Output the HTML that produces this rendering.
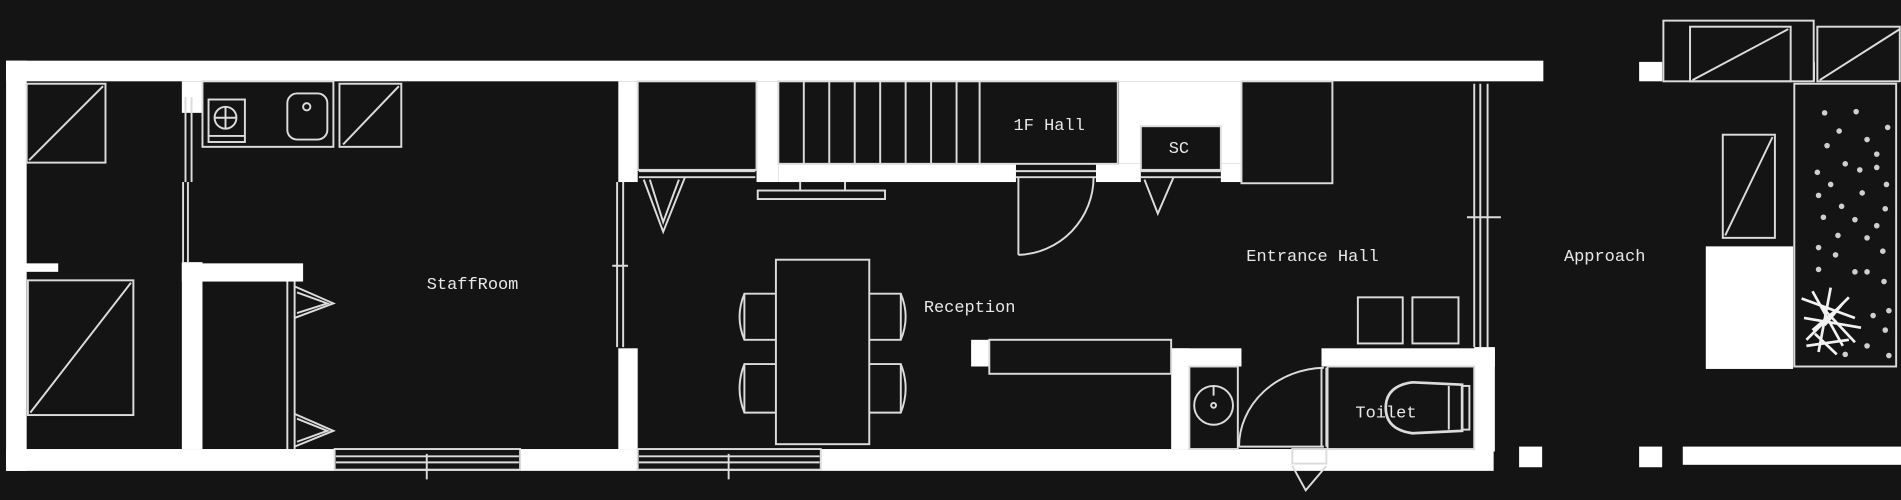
<!DOCTYPE html>
<html><head><meta charset="utf-8"><style>
html,body{margin:0;padding:0;background:#141414;}
svg{display:block;}
text{font-family:"Liberation Mono","DejaVu Sans Mono",monospace;fill:#e8e8e8;font-size:14px;}
</style></head><body>
<svg width="1901" height="500" viewBox="0 0 1568 412" preserveAspectRatio="none" xmlns="http://www.w3.org/2000/svg">
<rect x="0" y="0" width="1568" height="412" fill="#141414"/>
<g fill="#ffffff">
<!-- outer walls -->
<rect x="5" y="50" width="1268" height="17"/>
<rect x="5" y="50" width="17" height="338"/>
<rect x="5" y="370" width="1227" height="18"/>
<rect x="1352" y="51" width="19" height="16"/>
<rect x="1477" y="51" width="20" height="16"/>
<rect x="1253" y="368" width="19" height="17"/>
<rect x="1352" y="368" width="19" height="17"/>
<rect x="1388" y="368" width="180" height="15"/>
<!-- left interior -->
<rect x="150" y="67" width="17" height="26"/>
<rect x="150" y="216" width="17" height="154"/>
<rect x="150" y="217" width="100" height="15"/>
<rect x="21" y="217" width="27" height="7"/>
<!-- staff/reception wall -->
<rect x="510" y="67" width="16" height="83"/>
<rect x="510" y="287" width="16" height="83"/>
<!-- reception top -->
<rect x="624" y="67" width="18" height="83"/>
<rect x="642" y="135" width="196" height="15"/>
<rect x="904" y="135" width="37" height="15"/>
<rect x="1007" y="135" width="17" height="15"/>
<rect x="923" y="67" width="101" height="68"/>
<!-- lower middle -->
<rect x="801" y="280" width="15" height="22"/>
<rect x="966" y="287" width="58" height="15"/>
<rect x="966" y="287" width="15" height="83"/>
<rect x="1090" y="287" width="143" height="15"/>
<rect x="1216" y="286" width="17" height="86"/>
<!-- right block -->
<rect x="1407" y="203" width="72" height="101"/>
</g>
<g fill="none" stroke="#dcdcdc" stroke-width="1.6">
<!-- top right boxes -->
<rect x="1372" y="17" width="124" height="50" fill="#141414"/>
<rect x="1394" y="22" width="83" height="45"/><line x1="1396" y1="66" x2="1475" y2="24"/>
<rect x="1499" y="22" width="68" height="45"/><line x1="1501" y1="66" x2="1567" y2="24"/>
<!-- left closets -->
<rect x="22" y="69" width="65" height="65" fill="#141414"/><line x1="24" y1="132" x2="85" y2="71"/>
<rect x="23" y="231" width="87" height="111" fill="#141414"/><line x1="25" y1="340" x2="108" y2="233"/>
<!-- sliding door left -->
<line x1="153" y1="80" x2="153" y2="150"/><line x1="158" y1="80" x2="158" y2="150"/>
<line x1="155" y1="150" x2="155" y2="216"/><line x1="151" y1="150" x2="151" y2="216"/>
<!-- kitchen -->
<rect x="167" y="67" width="108" height="54"/>
<rect x="172" y="82" width="30" height="35"/><circle cx="186" cy="97" r="9"/><line x1="177" y1="97" x2="195" y2="97"/><line x1="186" y1="88" x2="186" y2="106"/><line x1="172" y1="112" x2="202" y2="112"/>
<rect x="237" y="77" width="33" height="38" rx="8"/><circle cx="253" cy="88" r="3"/>
<rect x="280" y="69" width="51" height="52"/><line x1="283" y1="119" x2="329" y2="71"/>
<!-- closet under staff -->
<line x1="237" y1="232" x2="237" y2="370"/><line x1="243" y1="232" x2="243" y2="370"/>
<polyline points="243,236 275,250 243,262"/><polyline points="245,241 270,250 245,258"/>
<polyline points="243,341 275,355 243,368"/><polyline points="245,345 270,355 245,364"/>
<!-- bottom windows -->
<rect x="276" y="370" width="153" height="17" fill="#141414"/><line x1="277" y1="376" x2="428" y2="376"/><line x1="277" y1="381" x2="428" y2="381"/><line x1="352" y1="374" x2="352" y2="395"/>
<rect x="526" y="370" width="151" height="17" fill="#141414"/><line x1="527" y1="376" x2="676" y2="376"/><line x1="527" y1="381" x2="676" y2="381"/><line x1="601" y1="374" x2="601" y2="395"/>
<!-- staff/reception sliding -->
<line x1="509" y1="150" x2="509" y2="286"/><line x1="514" y1="150" x2="514" y2="286"/><line x1="505" y1="219" x2="518" y2="219"/>
<!-- reception closet -->
<rect x="526" y="67" width="98" height="73"/>
<line x1="527" y1="141" x2="623" y2="141"/><line x1="527" y1="146" x2="623" y2="146"/>
<polyline points="531,148 547,191 565,146"/><polyline points="536,148 547,183 560,148"/>
<!-- stairs -->
<rect x="642" y="67" width="280" height="68"/>
<line x1="663" y1="67" x2="663" y2="135"/><line x1="684" y1="67" x2="684" y2="135"/><line x1="705" y1="67" x2="705" y2="135"/><line x1="726" y1="67" x2="726" y2="135"/><line x1="747" y1="67" x2="747" y2="135"/><line x1="768" y1="67" x2="768" y2="135"/><line x1="789" y1="67" x2="789" y2="135"/><line x1="808" y1="67" x2="808" y2="135"/>
<rect x="625" y="157" width="105" height="7"/><line x1="660" y1="150" x2="660" y2="157"/><line x1="697" y1="150" x2="697" y2="157"/>
<!-- 1F hall door -->
<line x1="838" y1="141" x2="904" y2="141"/><line x1="838" y1="146" x2="904" y2="146"/>
<line x1="840" y1="146" x2="840" y2="210"/><path d="M840,210 A64,64 0 0 0 902,146"/>
<!-- SC -->
<rect x="941" y="104" width="66" height="36" fill="#141414"/>
<line x1="941" y1="141" x2="1007" y2="141"/><line x1="941" y1="146" x2="1007" y2="146"/>
<polyline points="944,148 955,176 968,146"/>
<rect x="1024" y="67" width="75" height="84" fill="#141414"/>
<!-- entrance sliding -->
<line x1="1216" y1="69" x2="1216" y2="286"/><line x1="1221" y1="69" x2="1221" y2="286"/><line x1="1227" y1="69" x2="1227" y2="286"/><line x1="1210" y1="179" x2="1238" y2="179"/>
<!-- shoe boxes -->
<rect x="1120" y="245" width="37" height="38"/><rect x="1165" y="245" width="38" height="38"/>
<!-- table & chairs -->
<rect x="640" y="214" width="77" height="152"/>
<path d="M640,242 L614,242 Q606,261 614,280 L640,280"/><line x1="614" y1="242" x2="614" y2="280"/>
<path d="M640,300 L614,300 Q606,320 614,340 L640,340"/><line x1="614" y1="300" x2="614" y2="340"/>
<path d="M717,242 L743,242 Q751,261 743,280 L717,280"/><line x1="743" y1="242" x2="743" y2="280"/>
<path d="M717,300 L743,300 Q751,320 743,340 L717,340"/><line x1="743" y1="300" x2="743" y2="340"/>
<!-- counter -->
<rect x="816" y="280" width="150" height="28"/>
<!-- sink -->
<rect x="981" y="302" width="40" height="68"/><circle cx="1001" cy="334" r="16"/><circle cx="1001" cy="334" r="2"/><line x1="1001" y1="318" x2="1001" y2="326"/>
<!-- toilet door -->
<line x1="1094" y1="303" x2="1094" y2="368"/><line x1="1090" y1="303" x2="1090" y2="368"/>
<path d="M1092,303 A72,65 0 0 0 1022,368"/><line x1="1022" y1="368" x2="1092" y2="368"/>
<rect x="1066" y="370" width="28" height="12"/><polyline points="1066,384 1077,404 1094,384"/>
<!-- toilet -->
<rect x="1095" y="302" width="121" height="68"/>
<path d="M1206,317 L1165,315 Q1143,318 1143,336 Q1143,354 1165,357 L1206,355 Z" stroke-width="2.2"/><line x1="1195" y1="318" x2="1195" y2="354"/><rect x="1206" y="318" width="6" height="36"/>
<!-- right features -->
<rect x="1421" y="111" width="43" height="85"/><line x1="1423" y1="194" x2="1462" y2="113"/>
<rect x="1480" y="69" width="84" height="233"/>
<line x1="1276" y1="67" x2="1352" y2="67" stroke="#141414"/>
</g>
<g fill="#cfcfcf">
<circle cx="1505" cy="93" r="2.3"/><circle cx="1531" cy="92" r="2.3"/><circle cx="1557" cy="105" r="2.3"/><circle cx="1517" cy="108" r="2.3"/><circle cx="1540" cy="115" r="2.3"/><circle cx="1507" cy="120" r="2.3"/><circle cx="1548" cy="127" r="2.3"/><circle cx="1522" cy="135" r="2.3"/><circle cx="1499" cy="142" r="2.3"/><circle cx="1548" cy="138" r="2.3"/><circle cx="1534" cy="140" r="2.3"/><circle cx="1510" cy="152" r="2.3"/><circle cx="1556" cy="152" r="2.3"/><circle cx="1500" cy="161" r="2.3"/><circle cx="1536" cy="159" r="2.3"/><circle cx="1519" cy="170" r="2.3"/><circle cx="1555" cy="172" r="2.3"/><circle cx="1504" cy="179" r="2.3"/><circle cx="1530" cy="181" r="2.3"/><circle cx="1548" cy="186" r="2.3"/><circle cx="1516" cy="194" r="2.3"/><circle cx="1540" cy="196" r="2.3"/><circle cx="1500" cy="204" r="2.3"/><circle cx="1553" cy="207" r="2.3"/><circle cx="1514" cy="210" r="2.3"/><circle cx="1500" cy="222" r="2.3"/><circle cx="1540" cy="224" r="2.3"/><circle cx="1554" cy="232" r="2.3"/><circle cx="1558" cy="256" r="2.3"/><circle cx="1545" cy="260" r="2.3"/><circle cx="1555" cy="272" r="2.3"/><circle cx="1540" cy="285" r="2.3"/><circle cx="1522" cy="292" r="2.3"/><circle cx="1558" cy="293" r="2.3"/><circle cx="1530" cy="224" r="2.3"/>
</g>
<g stroke="#f2f2f2" stroke-width="2.2">
<line x1="1486" y1="246" x2="1530" y2="262"/><line x1="1495" y1="240" x2="1520" y2="285"/><line x1="1510" y1="237" x2="1500" y2="290"/><line x1="1525" y1="245" x2="1490" y2="280"/><line x1="1488" y1="262" x2="1535" y2="270"/><line x1="1500" y1="250" x2="1530" y2="282"/><line x1="1515" y1="255" x2="1495" y2="272"/><line x1="1490" y1="285" x2="1525" y2="280"/><line x1="1505" y1="268" x2="1520" y2="250"/><line x1="1497" y1="275" x2="1515" y2="292"/>
</g>
<text x="352" y="238">StaffRoom</text>
<text x="762" y="257">Reception</text>
<text x="836" y="107">1F Hall</text>
<text x="964" y="126">SC</text>
<text x="1028" y="215">Entrance Hall</text>
<text x="1290" y="215">Approach</text>
<text x="1118" y="344">Toilet</text>
</svg>
</body></html>
